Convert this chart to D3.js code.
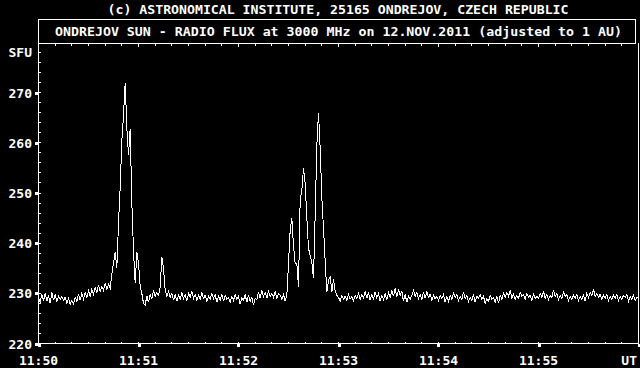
<!DOCTYPE html>
<html>
<head>
<meta charset="utf-8">
<title>Ondrejov radio flux</title>
<script src="https://d3js.org/d3.v7.min.js"></script>
<style>
    html, body { margin: 0; padding: 0; background: #000; }
    svg { display: block; background: #000; }
    text {
        font-family: "DejaVu Sans Mono", "Liberation Mono", monospace;
        font-weight: bold;
        font-size: 13px;
        fill: #fff;
    }
</style>
</head>
<body>
<svg id="chart" width="640" height="368"></svg>
<script>
// texts
const topTitle = "(c) ASTRONOMICAL INSTITUTE, 25165 ONDREJOV, CZECH REPUBLIC";
const boxTitle = "ONDREJOV SUN - RADIO FLUX at 3000 MHz on 12.NOV.2011 (adjusted to 1 AU)";
const yUnit = "SFU";
const xUnit = "UT";

// axis ticks
const yTicks = [220, 230, 240, 250, 260, 270];
const xTickSeconds = [0, 60, 120, 180, 240, 300];
const xTickLabels = ["11:50", "11:51", "11:52", "11:53", "11:54", "11:55"];

// flux in SFU, one value per second, split by minute (start 11:50:00)
const flux1150 = [
    229.0, 228.2, 229.8, 228.5, 230.0, 228.4, 229.6, 228.0, 230.2, 228.6,
    229.8, 228.3, 229.5, 228.8, 229.4, 228.6, 229.2, 228.0, 229.0, 227.8,
    228.6, 227.9, 229.2, 228.4, 229.8, 228.6, 230.0, 228.9, 230.2, 229.2,
    230.5, 229.4, 230.8, 229.8, 231.2, 230.2, 231.6, 230.4, 231.4, 230.6,
    232.0, 230.8, 231.8, 231.0, 233.8, 236.0, 238.2, 235.0, 244.0, 251.0,
    260.5, 265.5, 272.0, 263.0, 257.5, 262.8, 248.0, 238.5, 232.0, 238.2
];
const flux1151 = [
    236.0, 231.5, 230.0, 228.0, 227.6, 229.5, 228.2, 229.8, 228.8, 230.6,
    229.4, 230.2, 229.6, 231.2, 237.2, 235.0, 230.6, 229.4, 230.4, 229.2,
    230.0, 228.6, 229.8, 228.4, 229.6, 228.8, 230.2, 229.0, 229.8, 228.4,
    230.0, 229.2, 230.4, 229.0, 229.8, 228.6, 229.6, 228.8, 230.2, 229.0,
    229.6, 228.4, 229.4, 228.8, 230.0, 229.0, 229.8, 228.2, 229.4, 228.6,
    229.8, 228.4, 229.6, 228.8, 229.2, 228.2, 229.4, 228.6, 229.8, 228.8
];
const flux1152 = [
    229.4, 227.8, 229.2, 228.6, 229.8, 228.2, 229.6, 228.4, 229.2, 227.6,
    229.0, 228.8, 230.2, 229.0, 230.6, 229.4, 230.2, 229.0, 230.4, 229.4,
    230.0, 229.2, 230.4, 229.0, 230.0, 229.6, 228.8, 229.8, 228.4, 229.6,
    236.0, 242.5, 245.0, 239.5, 236.0, 236.0, 231.2, 248.5, 250.5, 255.0,
    252.0, 245.0, 239.0, 237.5, 236.2, 233.0, 245.5, 259.5, 266.0, 259.0,
    249.0, 243.0, 236.5, 230.2, 232.5, 233.4, 230.2, 232.8, 230.4, 229.6
];
const flux1153 = [
    229.2, 228.4, 229.6, 228.8, 229.4, 228.6, 229.8, 228.9, 229.3, 228.5,
    229.6, 229.0, 230.0, 228.8, 229.7, 229.1, 230.4, 229.0, 230.2, 228.6,
    229.8, 228.9, 230.3, 229.1, 230.0, 228.4, 229.6, 228.8, 229.9, 228.6,
    230.2, 229.2, 230.6, 229.4, 231.0, 229.2, 230.8, 229.6, 230.4, 228.4,
    229.8, 228.2, 229.4, 228.8, 229.6, 230.6, 229.4, 230.2, 229.0, 229.8,
    228.8, 230.2, 229.0, 230.4, 229.2, 229.8, 228.6, 229.6, 228.9, 229.4
];
const flux1154 = [
    228.6, 229.6, 228.9, 229.8, 228.2, 229.4, 228.4, 229.6, 228.8, 230.0,
    229.2, 229.8, 228.6, 229.4, 228.8, 230.2, 229.0, 229.6, 228.4, 229.2,
    228.6, 229.8, 228.2, 229.4, 229.0, 229.8, 228.8, 229.4, 228.0, 229.0,
    228.4, 229.6, 228.8, 229.2, 228.2, 229.4, 228.0, 229.6, 228.8, 230.0,
    229.2, 230.2, 229.4, 230.6, 229.0, 229.8, 228.8, 229.6, 229.0, 230.2,
    229.4, 229.8, 228.8, 230.0, 229.2, 229.6, 228.6, 229.8, 229.0, 229.4
];
const flux1155 = [
    229.0, 230.0, 229.2, 230.4, 229.0, 229.8, 228.8, 229.6, 229.2, 230.6,
    229.4, 230.0, 228.8, 229.6, 229.0, 230.2, 229.4, 229.8, 228.6, 229.4,
    228.8, 229.6, 229.0, 229.8, 228.6, 229.4, 228.8, 229.6, 228.4, 230.0,
    229.2, 230.2, 229.6, 230.8, 229.4, 230.0, 229.2, 229.8, 228.8, 229.6,
    229.0, 229.8, 228.6, 229.4, 228.8, 229.6, 229.0, 229.8, 228.6, 229.4,
    228.8, 229.6, 229.2, 229.8, 228.4, 229.4, 228.8, 229.6, 228.6, 229.2,
    229.0
];

const flux = [].concat(flux1150, flux1151, flux1152, flux1153, flux1154, flux1155);

const svg = d3.select("#chart");

const x = d3.scaleLinear().domain([0, 360]).range([38.5, 638.5]);
const y = d3.scaleLinear().domain([220, 280]).range([343.5, 42.5]);

// header texts
svg.append("text")
    .attr("x", 338)
    .attr("y", 14)
    .attr("text-anchor", "middle")
    .attr("textLength", 461)
    .attr("lengthAdjust", "spacingAndGlyphs")
    .text(topTitle);

svg.append("rect")
    .attr("x", 38.5)
    .attr("y", 19.5)
    .attr("width", 597)
    .attr("height", 24)
    .attr("fill", "none")
    .attr("stroke", "#fff")
    .attr("shape-rendering", "crispEdges");

svg.append("text")
    .attr("x", 338.5)
    .attr("y", 35.5)
    .attr("text-anchor", "middle")
    .attr("textLength", 567)
    .attr("lengthAdjust", "spacingAndGlyphs")
    .text(boxTitle);

// frame
const frame = svg.append("g")
    .attr("stroke", "#fff")
    .attr("shape-rendering", "crispEdges");
frame.append("line").attr("x1", x(0)).attr("x2", x(0)).attr("y1", 19.5).attr("y2", y(220));
frame.append("line").attr("x1", x(0)).attr("x2", x(360)).attr("y1", y(220)).attr("y2", y(220));
frame.append("line").attr("x1", x(360)).attr("x2", x(360)).attr("y1", y(280)).attr("y2", y(220));

// minor ticks
const minorX = d3.range(10, 360, 10);
frame.selectAll("line.xb")
    .data(minorX)
    .join("line")
    .attr("class", "xb")
    .attr("x1", d => x(d)).attr("x2", d => x(d))
    .attr("y1", y(220) - 2).attr("y2", y(220));
frame.selectAll("line.xt")
    .data(minorX)
    .join("line")
    .attr("class", "xt")
    .attr("x1", d => x(d)).attr("x2", d => x(d))
    .attr("y1", y(280) + 1).attr("y2", y(280) + (d => 3));
frame.selectAll("line.xt").attr("y2", d => y(280) + (d % 60 === 0 ? 4 : 3));

const minorY = d3.range(222, 280, 2);
frame.selectAll("line.ym")
    .data(minorY)
    .join("line")
    .attr("class", "ym")
    .attr("x1", x(0)).attr("x2", x(0) + 2)
    .attr("y1", d => y(d)).attr("y2", d => y(d));

// major tick squares
svg.selectAll("rect.ytick")
    .data(yTicks)
    .join("rect")
    .attr("class", "ytick")
    .attr("x", x(0) - 3.5)
    .attr("y", d => Math.round(y(d)) - 1.5)
    .attr("width", 3)
    .attr("height", 3)
    .attr("fill", "#fff")
    .attr("shape-rendering", "crispEdges");

svg.selectAll("rect.xtick")
    .data(xTickSeconds.concat([360]))
    .join("rect")
    .attr("class", "xtick")
    .attr("x", d => Math.round(x(d)) - 1.5)
    .attr("y", y(220) + 0.5)
    .attr("width", 3)
    .attr("height", 3)
    .attr("fill", "#fff")
    .attr("shape-rendering", "crispEdges");

// tick labels
svg.selectAll("text.ylab")
    .data(yTicks)
    .join("text")
    .attr("class", "ylab")
    .attr("x", 32)
    .attr("y", d => y(d) + 5)
    .attr("text-anchor", "end")
    .text(d => d);

svg.append("text")
    .attr("x", 32)
    .attr("y", 56.5)
    .attr("text-anchor", "end")
    .text(yUnit);

svg.selectAll("text.xlab")
    .data(xTickSeconds)
    .join("text")
    .attr("class", "xlab")
    .attr("x", d => x(d))
    .attr("y", 365)
    .attr("text-anchor", "middle")
    .text((d, i) => xTickLabels[i]);

svg.append("text")
    .attr("x", 637)
    .attr("y", 365)
    .attr("text-anchor", "end")
    .text(xUnit);

// flux curve
const line = d3.line()
    .x((d, i) => x(i))
    .y(d => y(d));

svg.append("path")
    .datum(flux)
    .attr("d", line)
    .attr("fill", "none")
    .attr("stroke", "#fff")
    .attr("stroke-width", 1)
    .attr("shape-rendering", "crispEdges");
</script>
</body>
</html>
